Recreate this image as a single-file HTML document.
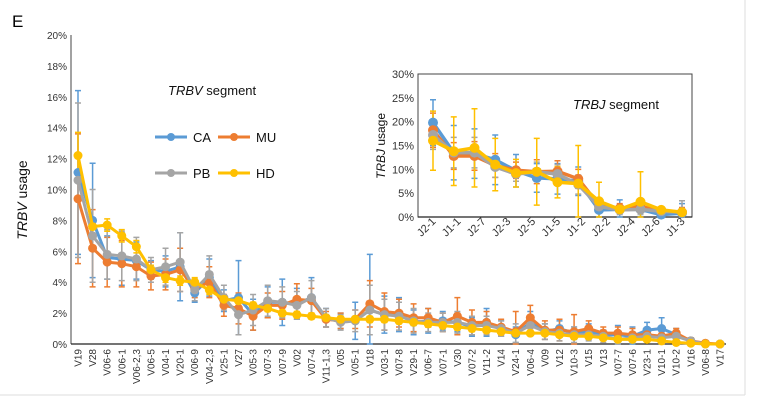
<!DOCTYPE html>
<html><head><meta charset="utf-8"><style>
body{margin:0;background:#fff;}
svg{display:block;font-family:"Liberation Sans",sans-serif;}
</style></head><body>
<svg id="c" width="766" height="406" viewBox="0 0 766 406">
<line x1="0" y1="395" x2="745" y2="395" stroke="#ddd"/>
<line x1="745" y1="0" x2="745" y2="395" stroke="#ddd"/>
<text x="12" y="27" font-size="17">E</text>
<g id="main"></g><g id="inset"></g>
</svg>
<script>
const vCats=["V19","V28","V06-6","V06-1","V06-2,3","V06-5","V04-1","V20-1","V06-9","V04-2,3","V25-1","V27","V05-3","V07-3","V07-9","V02","V07-4","V11-1,3","V05","V05-1","V18","V03-1","V07-8","V29-1","V06-7","V07-1","V30","V07-2","V11-2","V14","V24-1","V06-4","V09","V12","V10-3","V15","V13","V07-7","V07-6","V23-1","V10-1","V10-2","V16","V06-8","V17"];
const vCA=[11.1,8.0,5.6,5.5,5.4,4.8,4.7,5.0,3.3,4.3,2.8,3.0,1.9,2.7,2.7,2.6,3.0,1.7,1.5,1.5,2.2,1.9,1.9,1.4,1.5,1.5,1.4,1.1,1.4,1.0,0.6,1.4,0.8,1.0,0.7,0.8,0.6,0.6,0.5,0.9,1.0,0.6,0.2,0.0,0.0];
const vMU=[9.4,6.2,5.3,5.2,5.0,4.4,4.5,4.8,3.6,4.0,2.5,2.3,1.8,2.5,2.5,2.9,2.8,1.6,1.5,1.6,2.6,2.1,2.0,1.7,1.7,1.4,1.8,1.4,1.4,1.1,0.8,1.7,0.9,0.9,0.8,1.0,0.7,0.7,0.6,0.6,0.5,0.7,0.2,0.05,0.0];
const vPB=[10.6,7.0,5.8,5.7,5.5,4.8,5.0,5.3,3.5,4.5,3.0,1.9,2.2,2.8,2.7,2.5,3.0,1.7,1.4,1.5,2.2,1.9,1.8,1.5,1.4,1.4,1.4,1.2,1.2,1.0,0.7,1.2,0.8,0.7,0.6,0.6,0.5,0.3,0.4,0.5,0.4,0.5,0.2,0.0,0.0];
const vHD=[12.2,7.6,7.7,7.0,6.3,4.8,4.3,4.1,4.0,3.5,2.9,2.8,2.5,2.3,2.0,1.9,1.8,1.7,1.6,1.6,1.6,1.6,1.5,1.4,1.3,1.2,1.1,1.0,0.9,0.8,0.7,0.7,0.7,0.6,0.5,0.5,0.4,0.3,0.3,0.3,0.2,0.1,0.05,0.0,0.0];
const vErrCA=[5.3,3.7,1.4,1.7,1.2,0.6,1.0,2.2,0.6,1.2,0.7,2.4,1.0,1.0,1.5,1.0,1.3,0.6,0.5,1.2,3.6,1.2,1.1,0.8,0.8,0.6,0.6,0.6,0.9,0.5,0.5,0.7,0.5,0.5,0.4,0.5,0.3,0.6,0.6,0.5,0.7,0.4,0.2,0,0];
const vErrMU=[4.2,2.5,1.6,1.5,1.3,0.9,1.0,1.4,0.6,1.0,0.7,1.0,0.9,0.8,0.9,1.0,0.8,0.5,0.5,0.6,1.5,1.2,0.9,0.9,0.6,0.6,1.2,0.8,0.7,0.5,1.3,0.8,0.6,0.7,1.1,0.5,0.4,0.4,0.4,0.4,0.3,0.3,0.2,0,0];
const vErrPB=[5.0,3.0,1.6,1.6,1.4,0.8,1.2,1.9,0.7,1.2,0.8,1.3,1.0,1.0,1.0,0.9,1.1,0.6,0.5,0.7,1.6,1.0,0.9,0.8,0.6,0.6,0.7,0.6,0.6,0.5,0.6,0.6,0.5,0.5,0.5,0.4,0.4,0.3,0.3,0.3,0.3,0.3,0.2,0,0];
const vErrHD=[1.5,0.5,0.4,0.4,0.4,0.3,0.3,0.3,0.3,0.3,0.2,0.2,0.2,0.2,0.2,0.2,0.2,0.2,0.2,0.2,0.2,0.2,0.2,0.2,0.2,0.2,0.2,0.2,0.1,0.1,0.1,0.1,0.1,0.1,0.1,0.1,0.1,0.1,0.1,0.1,0.1,0.1,0,0,0];
const vTicks=[0,2,4,6,8,10,12,14,16,18,20];

const jCats=["J2-1","J1-1","J2-7","J2-3","J2-5","J1-5","J1-2","J1-4","J2-2","J2-4","J2-6","J1-6","J1-3"];
const jTickLabels=["J2-1","J1-1","J2-7","J2-3","J2-5","J1-5","J1-2","J2-2","J2-4","J2-6","J1-3"];
const jCA=[19.8,13.5,13.3,12.0,9.7,8.2,8.0,7.5,1.5,1.6,1.6,0.5,0.8];
const jMU=[18.2,12.8,12.8,10.8,9.8,9.5,9.6,8.0,2.5,1.8,2.2,1.3,1.0];
const jPB=[17.2,13.5,13.5,10.5,9.0,9.5,9.0,6.8,2.2,1.5,1.6,1.2,1.0];
const jHD=[16.0,13.8,14.5,11.0,9.2,9.5,7.3,7.0,3.3,1.6,3.2,1.5,1.0];
const jErrCA=[4.8,5.7,5.2,5.2,3.4,3.0,3.2,3.0,1.5,2.0,1.5,0.5,2.0];
const jErrMU=[3.6,2.8,3.0,2.5,1.7,2.5,2.2,2.0,1.2,1.0,1.0,0.6,1.0];
const jErrPB=[3.0,3.2,3.2,2.2,1.5,2.0,2.0,2.0,1.2,1.0,1.0,0.8,2.4];
const jErrHD=[6.2,7.2,8.2,5.5,2.9,7.0,3.3,8.0,4.0,0.5,6.3,0.5,0.7];
const jTicks=[0,5,10,15,20,25,30];

const NS="http://www.w3.org/2000/svg";
function mk(parent,tag,attrs,txt){const e=document.createElementNS(NS,tag);for(const k in attrs)e.setAttribute(k,attrs[k]);if(txt!==undefined)e.textContent=txt;parent.appendChild(e);return e;}
const colors={CA:"#5b9bd5",MU:"#ed7d31",PB:"#a5a5a5",HD:"#ffc000"};

function drawChart(g,cfg){
  const {x0,x1,y0,y1,max,cats,series,errs,ticks,tickLabels,r,lw,fs,px0,px1,prefix}=cfg;
  const ys=v=>y0-(v/max)*(y0-y1);
  const n=cats.length;
  const xs=i=>px0+i*(px1-px0)/(n-1);
  const fr=mk(g,"rect",{x:x0,y:y1,width:x1-x0,height:y0-y1,fill:"none",stroke:cfg.box?"#444":"none","stroke-width":1});
  
  
  const ax=mk(g,"line",{x1:x0,y1:y1,x2:x0,y2:y0,stroke:"#444","stroke-width":1});
  
  
  const bx=mk(g,"line",{x1:x0,y1:y0,x2:x1,y2:y0,stroke:"#222","stroke-width":1.2});
  
  
  ticks.forEach(t=>{
    const tl=mk(g,"text",{x:x0-4,y:ys(t)+4,"font-size":fs,"text-anchor":"end",fill:"#333"},t+"%");
    
    
  });
  const order=["CA","MU","PB","HD"];
  order.forEach(s=>{
    const vals=series[s],er=errs[s],c=colors[s];
    vals.forEach((v,i)=>{
      const x=xs(i),a=ys(Math.min(max,v+er[i])),b=ys(Math.max(0,v-er[i]));
      const eb=mk(g,"path",{d:`M${x},${a}V${b}M${x-3},${a}H${x+3}M${x-3},${b}H${x+3}`,stroke:c,"stroke-width":1.5,fill:"none"});
      
      
    });
  });
  order.forEach(s=>{
    const vals=series[s],c=colors[s];
    const ln=mk(g,"polyline",{points:vals.map((v,i)=>xs(i)+","+ys(v)).join(" "),fill:"none",stroke:c,"stroke-width":lw,"stroke-linejoin":"round"});
    
    
    vals.forEach((v,i)=>{
      const p=mk(g,"circle",{cx:xs(i),cy:ys(v),r:r,fill:c});
      
      
    });
  });
  const labs=tickLabels||cats;
  labs.forEach((lab,i)=>{
    const x=tickLabels? px0+i*(px1-px0)/(labs.length-1): xs(i);
    const t=mk(g,"text",{transform:`translate(${x+3.5},${y0+5}) rotate(${cfg.rot})`,"font-size":fs,"text-anchor":"end",fill:"#333"},lab);
    
    
  });
}

drawChart(document.getElementById("main"),{x0:71,x1:726,y0:344,y1:35,max:20,cats:vCats,
  series:{CA:vCA,MU:vMU,PB:vPB,HD:vHD},errs:{CA:vErrCA,MU:vErrMU,PB:vErrPB,HD:vErrHD},
  ticks:vTicks,r:4.5,lw:3,fs:10,px0:78,px1:720,rot:-90,box:false,prefix:"trbv"});
drawChart(document.getElementById("inset"),{x0:418,x1:692,y0:217,y1:74,max:30,cats:jCats,tickLabels:jTickLabels,
  series:{CA:jCA,MU:jMU,PB:jPB,HD:jHD},errs:{CA:jErrCA,MU:jErrMU,PB:jErrPB,HD:jErrHD},
  ticks:jTicks,r:5,lw:3.5,fs:11,px0:433,px1:682,rot:-45,box:true,prefix:"trbj"});

const svg=document.getElementById("c");
const t1=mk(svg,"text",{x:168,y:95,"font-size":13,fill:"#111"});


t1.innerHTML='<tspan font-style="italic">TRBV</tspan> segment';
const t2=mk(svg,"text",{x:573,y:109,"font-size":13,fill:"#111"});


t2.innerHTML='<tspan font-style="italic">TRBJ</tspan> segment';
const ya=mk(svg,"text",{transform:"translate(27,200) rotate(-90)","font-size":14,"text-anchor":"middle",fill:"#111"});


ya.innerHTML='<tspan font-style="italic">TRBV</tspan> usage';
const yb=mk(svg,"text",{transform:"translate(385,146) rotate(-90)","font-size":12,"text-anchor":"middle",fill:"#111"});


yb.innerHTML='<tspan font-style="italic">TRBJ</tspan> usage';
const legend=[["CA",155,137],["MU",218,137],["PB",155,173],["HD",218,173]];
legend.forEach(([s,x,y])=>{
  const g=mk(svg,"g",{});
  
  
  mk(g,"line",{x1:x,y1:y,x2:x+32,y2:y,stroke:colors[s],"stroke-width":3});
  mk(g,"circle",{cx:x+16,cy:y,r:4,fill:colors[s]});
  mk(g,"text",{x:x+38,y:y+5,"font-size":13,fill:"#111"},s);
});
</script>
</body></html>
